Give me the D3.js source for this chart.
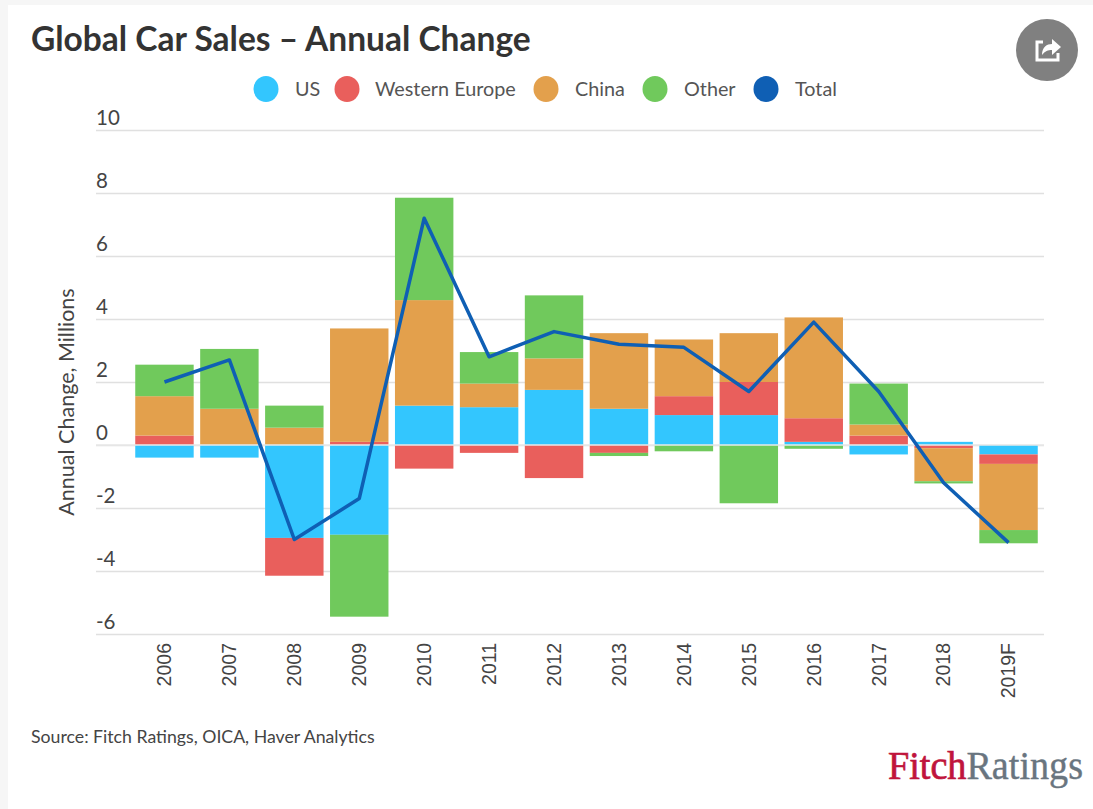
<!DOCTYPE html>
<html>
<head>
    <meta charset="utf-8">
    <style>
        html, body { margin: 0; padding: 0; background: #fff; }
        svg { display: block; }
        text { font-family: Lato, sans-serif; fill: #444; }
        .title { font-size: 33.5px; font-weight: 700; fill: #333; }
        .legend text { font-size: 19.8px; fill: #555; }
        .y-axis text { font-size: 20.5px; fill: #444; }
        .x-axis text { font-family: "Liberation Sans", sans-serif; font-size: 19.5px; fill: #444; }
        .grid line { stroke: #e0e0e0; stroke-width: 1.5; }
        .source { font-size: 17.7px; fill: #444; }
        .logo { font-family: "Liberation Serif", serif; font-size: 39px; }
    </style>
</head>
<body>
    <svg width="1093" height="809"></svg>

    <script src="https://cdnjs.cloudflare.com/ajax/libs/d3/7.8.5/d3.min.js"></script>

    <script>
        var years = ["2006", "2007", "2008", "2009", "2010", "2011", "2012", "2013", "2014", "2015", "2016", "2017", "2018", "2019F"];
        var us = [-0.4, -0.4, -2.95, -2.85, 1.25, 1.2, 1.75, 1.15, 0.95, 0.95, 0.1, -0.3, 0.1, -0.3];
        var westernEurope = [0.3, 0, -1.2, 0.1, -0.75, -0.25, -1.05, -0.25, 0.6, 1.05, 0.75, 0.3, -0.1, -0.3];
        var china = [1.25, 1.15, 0.55, 3.6, 3.35, 0.75, 1.0, 2.4, 1.8, 1.55, 3.2, 0.35, -1.05, -2.1];
        var other = [1.0, 1.9, 0.7, -2.6, 3.25, 1.0, 2.0, -0.1, -0.2, -1.85, -0.12, 1.3, -0.07, -0.42];
        var total = [2.0, 2.7, -3.0, -1.7, 7.2, 2.8, 3.6, 3.2, 3.1, 1.7, 3.9, 1.7, -1.2, -3.1];
        var yTicks = [-6, -4, -2, 0, 2, 4, 6, 8, 10];
        var seriesNames = ["US", "Western Europe", "China", "Other", "Total"];
        var seriesColors = ["#33c6fe", "#e95f5c", "#e3a04c", "#70c95c", "#0f5fb4"];

        var svg = d3.select("svg");

        // page background strips from the screenshot
        svg.append("rect").attr("width", 1093).attr("height", 809).attr("fill", "#f6f6f6");
        svg.append("rect").attr("x", 8).attr("y", 5).attr("width", 1085).attr("height", 804).attr("fill", "#fff");

        var x = d3.scaleBand().domain(years).range([132, 1041]).paddingInner(0.1).paddingOuter(0.05);
        var y = d3.scaleLinear().domain([-6, 10]).range([634, 130]);

        // gridlines + y labels
        var yAxis = svg.append("g")
                .attr("class", "y-axis grid")
                .attr("transform", "translate(96,0)")
                .call(d3.axisRight(y).tickValues(yTicks).tickSize(948).tickFormat(function(d) { return String(d); }));
        yAxis.select(".domain").remove();
        yAxis.selectAll("text")
                .attr("x", 0)
                .attr("y", -6)
                .attr("dy", 0)
                .attr("text-anchor", "start");

        var keys = d3.range(4);
        var columns = [us, westernEurope, china, other];
        var rows = years.map(function(d, i) {
            return keys.map(function(k) { return columns[k][i]; });
        });
        var stack = d3.stack()
                .keys(keys)
                .offset(d3.stackOffsetDiverging);

        svg.append("g").selectAll("g")
                .data(stack(rows))
                .enter().append("g")
                .attr("fill", function(d) { return seriesColors[d.key]; })
                .selectAll("rect")
                .data(function(d) { return d; })
                .enter().append("rect")
                .attr("x", function(d, i) { return x(years[i]); })
                .attr("width", x.bandwidth())
                .attr("y", function(d) { return y(Math.max(d[0], d[1])); })
                .attr("height", function(d) { return Math.abs(y(d[0]) - y(d[1])); });

        // pale zero line shows across the bars
        svg.append("line")
                .attr("x1", 96)
                .attr("x2", 1044)
                .attr("y1", y(0))
                .attr("y2", y(0))
                .attr("stroke", "#e8e8e8")
                .attr("stroke-width", 1.5);

        var line = d3.line()
                .x(function(d, i) { return x(years[i]) + x.bandwidth() / 2; })
                .y(function(d) { return y(d); });

        svg.append("path")
                .datum(total)
                .attr("d", line)
                .attr("fill", "none")
                .attr("stroke", seriesColors[4])
                .attr("stroke-width", 3.5)
                .attr("stroke-linejoin", "round");

        var xAxis = svg.append("g")
                .attr("class", "x-axis")
                .attr("transform", "translate(0,634)")
                .call(d3.axisBottom(x).tickSize(0));
        xAxis.select(".domain").remove();
        xAxis.selectAll("text")
                .attr("transform", "rotate(-90)")
                .attr("x", -9)
                .attr("y", 0)
                .attr("dy", "0.35em")
                .attr("text-anchor", "end");

        // title, legend, footer
        svg.append("text")
                .attr("class", "title")
                .attr("x", 31)
                .attr("y", 51)
                .text("Global Car Sales \u2013 Annual Change");

        var legendCircleX = [266, 347, 546, 655, 766];
        var legendTextX = [295, 375, 575, 684, 795];
        var legend = svg.append("g").attr("class", "legend");
        legend.selectAll("ellipse")
                .data(seriesNames)
                .enter().append("ellipse")
                .attr("cx", function(d, i) { return legendCircleX[i]; })
                .attr("cy", 89)
                .attr("rx", 12.5)
                .attr("ry", 13)
                .attr("fill", function(d, i) { return seriesColors[i]; });
        legend.selectAll("text")
                .data(seriesNames)
                .enter().append("text")
                .attr("x", function(d, i) { return legendTextX[i]; })
                .attr("y", 96)
                .text(function(d) { return d; });

        svg.append("text")
                .attr("transform", "translate(74,402) rotate(-90)")
                .attr("text-anchor", "middle")
                .attr("font-size", 21.5)
                .text("Annual Change, Millions");

        svg.append("text")
                .attr("class", "source")
                .attr("x", 31)
                .attr("y", 743)
                .text("Source: Fitch Ratings, OICA, Haver Analytics");

        var logo = svg.append("text").attr("class", "logo").attr("x", 888).attr("y", 779)
                .attr("textLength", 195)
                .attr("lengthAdjust", "spacingAndGlyphs");
        logo.append("tspan").style("fill", "#c0143c").style("stroke", "#c0143c").style("stroke-width", 0.7).text("Fitch");
        logo.append("tspan").style("fill", "#69757f").style("stroke", "#69757f").style("stroke-width", 0.4).text("Ratings");

        // share button
        var share = svg.append("g").attr("transform", "translate(1047,50)");
        share.append("circle").attr("r", 31).attr("fill", "#808080");
        share.append("path")
                .attr("d", "M-4,-8 H-10 V10 H11 V3")
                .attr("fill", "none")
                .attr("stroke", "#fff")
                .attr("stroke-width", 3);
        share.append("path")
                .attr("d", "M-5,5 C-5,-3 0,-6 5,-6 V-11 L14,-3 L5,5 V0 C1,0 -2,1 -5,5 Z")
                .attr("fill", "#fff");
    </script>
</body>
</html>
